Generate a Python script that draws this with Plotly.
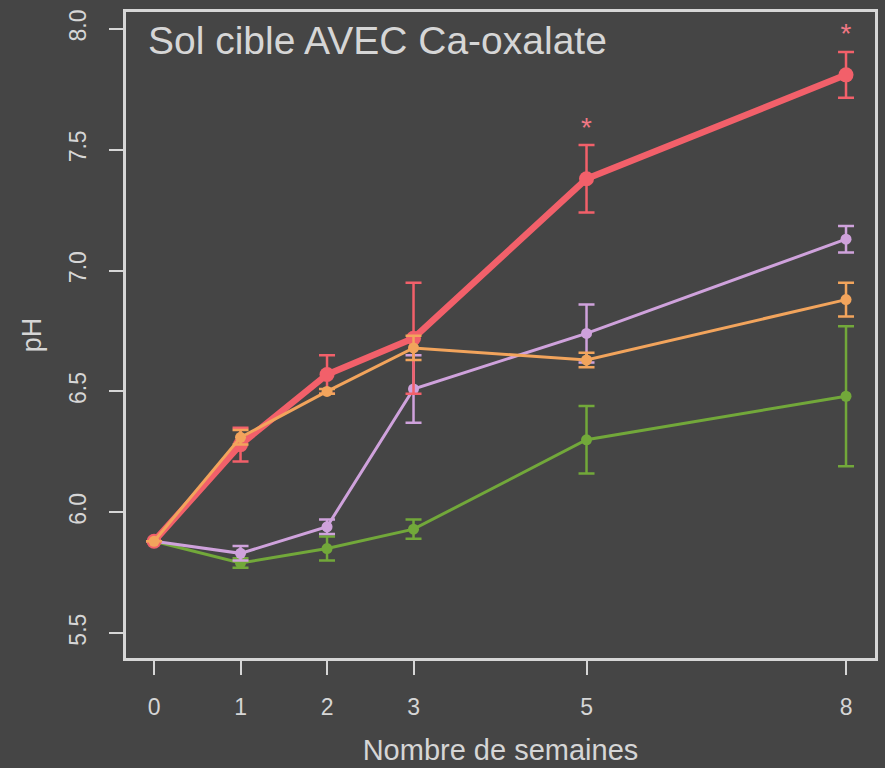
import plotly.graph_objects as go

weeks = [0, 1, 2, 3, 5, 8]

red_ph = [5.88, 6.28, 6.57, 6.72, 7.38, 7.81]
red_err = [0.0, 0.07, 0.08, 0.23, 0.14, 0.095]

orange_ph = [5.88, 6.31, 6.50, 6.68, 6.63, 6.88]
orange_err = [0.0, 0.03, 0.01, 0.05, 0.03, 0.07]

lilac_ph = [5.88, 5.83, 5.94, 6.51, 6.74, 7.13]
lilac_err = [0.0, 0.03, 0.03, 0.14, 0.12, 0.055]

green_ph = [5.88, 5.79, 5.85, 5.93, 6.30, 6.48]
green_err = [0.0, 0.02, 0.05, 0.04, 0.14, 0.29]

star_weeks = [5, 8]
star_ph = [7.58, 7.97]

x_ticks = [0, 1, 2, 3, 5, 8]
y_ticks = [5.5, 6.0, 6.5, 7.0, 7.5, 8.0]

BG = "#454545"
FG = "#d6d6d6"

series = [
    ("green", green_ph, green_err, "#72a83a", 3, 11),
    ("lilac", lilac_ph, lilac_err, "#cfa2dc", 3, 11),
    ("red", red_ph, red_err, "#f2606a", 6.5, 15),
    ("orange", orange_ph, orange_err, "#f2a45c", 3, 11),
]

fig = go.Figure()
for name, ys, errs, col, lw, ms in series:
    fig.add_trace(go.Scatter(
        x=weeks, y=ys, name=name, mode="lines+markers",
        line=dict(color=col, width=lw),
        marker=dict(color=col, size=ms),
        error_y=dict(type="data", array=errs, symmetric=True,
                     color=col, thickness=2.5, width=8),
        showlegend=False,
    ))

fig.add_trace(go.Scatter(
    x=star_weeks, y=star_ph, mode="text", text=["*"] * len(star_weeks),
    textfont=dict(color="#f07884", size=28, family="Liberation Sans"),
    showlegend=False,
))

fig.add_annotation(
    x=0, y=1, xref="paper", yref="paper", xanchor="left", yanchor="top",
    xshift=20, yshift=-5,
    text="Sol cible AVEC Ca-oxalate", showarrow=False,
    font=dict(color=FG, size=39, family="Liberation Sans"),
)

fig.update_layout(
    width=885, height=768,
    paper_bgcolor=BG, plot_bgcolor=BG,
    margin=dict(l=126, r=10, t=12, b=110),
    font=dict(family="Liberation Sans", color=FG),
    xaxis=dict(
        range=[-0.324, 8.335], tickvals=x_ticks, ticktext=[str(v) for v in x_ticks],
        showgrid=False, zeroline=False, showline=True, mirror=True, automargin=False,
        linecolor=FG, linewidth=3, ticks="outside", ticklen=14, tickwidth=2,
        tickcolor=FG, tickfont=dict(size=23, color=FG), ticklabelstandoff=12,
        title=dict(text="Nombre de semaines", font=dict(size=29, color=FG), standoff=22),
    ),
    yaxis=dict(
        range=[5.397, 8.07], tickvals=y_ticks, ticktext=[f"{v:.1f}" for v in y_ticks],
        showgrid=False, zeroline=False, showline=True, mirror=True, automargin=False,
        linecolor=FG, linewidth=3, ticks="outside", ticklen=14, tickwidth=2,
        tickcolor=FG, tickfont=dict(size=23, color=FG), tickangle=-90,
        ticklabelstandoff=14,
        title=dict(text="pH", font=dict(size=27, color=FG), standoff=16),
    ),
)

fig.write_html("out.html")
